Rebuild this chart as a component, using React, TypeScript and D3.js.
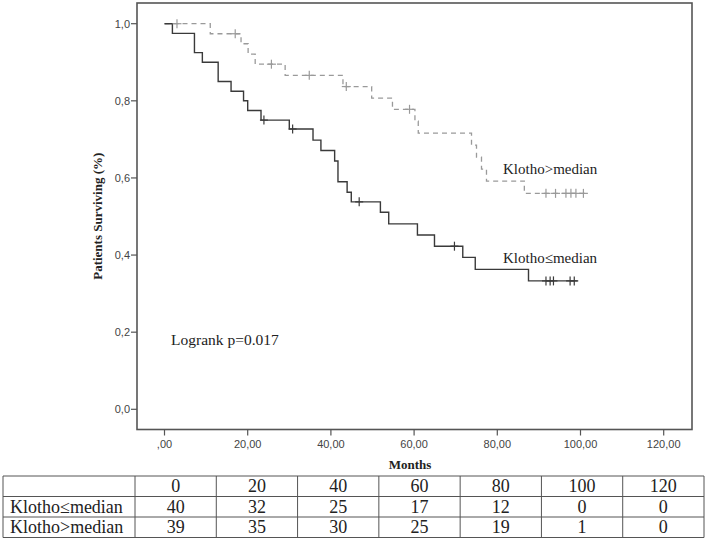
import React from "react";
import * as d3 from "d3";

// ---- data ----
const lowEventTimes = [1.9, 7.2, 9.1, 12.9, 16.0, 19.0, 20.0, 23.2, 30.0, 35.7, 37.6, 40.9, 41.7, 43.9, 44.9, 51.9, 53.9, 60.8, 64.9, 71.7, 74.7, 87.5];
const lowEventSurv = [0.975, 0.925, 0.9, 0.85, 0.825, 0.8, 0.775, 0.75, 0.727, 0.698, 0.671, 0.644, 0.59, 0.563, 0.538, 0.511, 0.481, 0.452, 0.423, 0.394, 0.363, 0.333];
const lowCensor = [23.9, 30.8, 46.8, 69.7, 91.7, 92.7, 93.5, 97.5, 98.5];
const lowEnd = 99.3;

const highEventTimes = [11.0, 18.4, 20.1, 21.8, 29.0, 42.9, 49.8, 54.8, 60.2, 61.0, 73.8, 75.0, 76.2, 77.4, 86.5];
const highEventSurv = [0.974, 0.948, 0.921, 0.895, 0.866, 0.837, 0.807, 0.778, 0.747, 0.716, 0.685, 0.654, 0.623, 0.592, 0.56];
const highCensor = [3.0, 17.0, 25.7, 34.8, 43.7, 58.9, 91.7, 94.0, 96.5, 97.7, 98.9, 100.7];
const highEnd = 101.3;

const xTicks = [0, 20, 40, 60, 80, 100, 120];
const yTicks = [0, 0.2, 0.4, 0.6, 0.8, 1.0];

const tableHeaders = ["0", "20", "40", "60", "80", "100", "120"];
const groupNames = ["Klotho\u2264median", "Klotho>median"];
const atRiskLow = [40, 32, 25, 17, 12, 0, 0];
const atRiskHigh = [39, 35, 30, 25, 19, 1, 0];

// ---- layout ----
const W = 709;
const H = 543;
const frame = { left: 137, right: 692, top: 3, bottom: 429.5 };

const x = d3.scaleLinear().domain([0, 120]).range([164.5, 663.7]);
const y = d3.scaleLinear().domain([0, 1]).range([409.3, 23.7]);

function buildSteps(times: number[], surv: number[], end: number): [number, number][] {
  const pts: [number, number][] = [[0, 1]];
  times.forEach((t, i) => pts.push([t, surv[i]]));
  pts.push([end, surv[surv.length - 1]]);
  return pts;
}

function survAt(times: number[], surv: number[], t: number) {
  let s = 1;
  times.forEach((tt, i) => {
    if (tt <= t) s = surv[i];
  });
  return s;
}

const line = d3
  .line<[number, number]>()
  .x((d) => x(d[0]))
  .y((d) => y(d[1]))
  .curve(d3.curveStepAfter);

const fmtY = (v: number) => d3.format(".1f")(v).replace(".", ",");
const fmtX = (v: number) => (v === 0 ? ",00" : d3.format(".2f")(v).replace(".", ","));

export default function App() {
  const lowPts = buildSteps(lowEventTimes, lowEventSurv, lowEnd);
  const highPts = buildSteps(highEventTimes, highEventSurv, highEnd);
  const darkLine = "#3a3a3a";
  const grayLine = "#9a9a9a";
  const axisCol = "#555";
  const tickFont = "'Liberation Sans', Arial, sans-serif";
  const serif = "'Liberation Serif', 'Times New Roman', serif";

  // table geometry
  const tTop = 476;
  const rowH = 20.5;
  const tLeft = 3;
  const firstColRight = 135;
  const colW = (704 - firstColRight) / tableHeaders.length;
  const rows = [tableHeaders, atRiskLow.map(String), atRiskHigh.map(String)];
  const rowLabels = ["", groupNames[0], groupNames[1]];

  return (
    <div style={{ position: "absolute", left: 0, top: 0 }}>
      <svg width={W} height={H} style={{ display: "block", background: "#fff" }}>
        {/* frame */}
        <rect
          x={frame.left}
          y={frame.top}
          width={frame.right - frame.left}
          height={frame.bottom - frame.top}
          fill="none"
          stroke={axisCol}
          strokeWidth={1.6}
        />
        {/* y ticks */}
        {yTicks.map((t) => (
          <g key={"y" + t}>
            <line x1={frame.left - 6} x2={frame.left} y1={y(t)} y2={y(t)} stroke={axisCol} strokeWidth={1.2} />
            <text x={frame.left - 7} y={y(t) + 4} textAnchor="end" fontSize={11} fontFamily={tickFont} fill="#444">
              {fmtY(t)}
            </text>
          </g>
        ))}
        {/* x ticks */}
        {xTicks.map((t) => (
          <g key={"x" + t}>
            <line x1={x(t)} x2={x(t)} y1={frame.bottom} y2={frame.bottom + 6} stroke={axisCol} strokeWidth={1.2} />
            <text x={x(t)} y={frame.bottom + 18} textAnchor="middle" fontSize={11} fontFamily={tickFont} fill="#444">
              {fmtX(t)}
            </text>
          </g>
        ))}
        {/* axis titles */}
        <text
          transform={`translate(102, ${(frame.top + frame.bottom) / 2}) rotate(-90)`}
          textAnchor="middle"
          fontSize={13}
          fontWeight="bold"
          fontFamily={serif}
          fill="#222"
        >
          Patients Surviving (%)
        </text>
        <text x={410} y={469} textAnchor="middle" fontSize={13} fontWeight="bold" fontFamily={serif} fill="#222">
          Months
        </text>

        {/* curves */}
        <path d={line(highPts) || ""} fill="none" stroke={grayLine} strokeWidth={1.3} strokeDasharray="5,4" />
        <path d={line(lowPts) || ""} fill="none" stroke={darkLine} strokeWidth={1.4} />

        {/* censor marks */}
        {highCensor.map((t, i) => {
          const cx = x(t);
          const cy = y(survAt(highEventTimes, highEventSurv, t));
          return (
            <g key={"hc" + i} stroke={grayLine} strokeWidth={1.2}>
              <line x1={cx} x2={cx} y1={cy - 4.5} y2={cy + 4.5} />
              <line x1={cx - 4.5} x2={cx + 4.5} y1={cy} y2={cy} />
            </g>
          );
        })}
        {lowCensor.map((t, i) => {
          const cx = x(t);
          const cy = y(survAt(lowEventTimes, lowEventSurv, t));
          return (
            <g key={"lc" + i} stroke={darkLine} strokeWidth={1.2}>
              <line x1={cx} x2={cx} y1={cy - 4.5} y2={cy + 4.5} />
              <line x1={cx - 4} x2={cx + 4} y1={cy} y2={cy} />
            </g>
          );
        })}

        {/* labels */}
        <text x={503} y={174} fontSize={15} fontFamily={serif} fill="#222">
          {groupNames[1]}
        </text>
        <text x={503} y={263} fontSize={15} fontFamily={serif} fill="#222">
          {groupNames[0]}
        </text>
        <text x={171} y={345} fontSize={15.5} fontFamily={serif} fill="#222">
          Logrank p=0.017
        </text>

        {/* at-risk table */}
        <g stroke="#555" strokeWidth={1}>
          {[0, 1, 2, 3].map((r) => (
            <line key={"tr" + r} x1={tLeft} x2={704} y1={tTop + r * rowH} y2={tTop + r * rowH} />
          ))}
          <line x1={tLeft} x2={tLeft} y1={tTop} y2={tTop + 3 * rowH} />
          {tableHeaders.map((_, c) => (
            <line
              key={"tc" + c}
              x1={firstColRight + c * colW}
              x2={firstColRight + c * colW}
              y1={tTop}
              y2={tTop + 3 * rowH}
            />
          ))}
          <line x1={704} x2={704} y1={tTop} y2={tTop + 3 * rowH} />
        </g>
        {rows.map((row, r) => (
          <g key={"row" + r}>
            {rowLabels[r] && (
              <text x={10} y={tTop + r * rowH + 16} fontSize={18} fontFamily={serif} fill="#222">
                {rowLabels[r]}
              </text>
            )}
            {row.map((v, c) => (
              <text
                key={"cell" + c}
                x={firstColRight + (c + 0.5) * colW}
                y={tTop + r * rowH + 16}
                textAnchor="middle"
                fontSize={18}
                fontFamily={serif}
                fill="#222"
              >
                {v}
              </text>
            ))}
          </g>
        ))}
      </svg>
    </div>
  );
}
